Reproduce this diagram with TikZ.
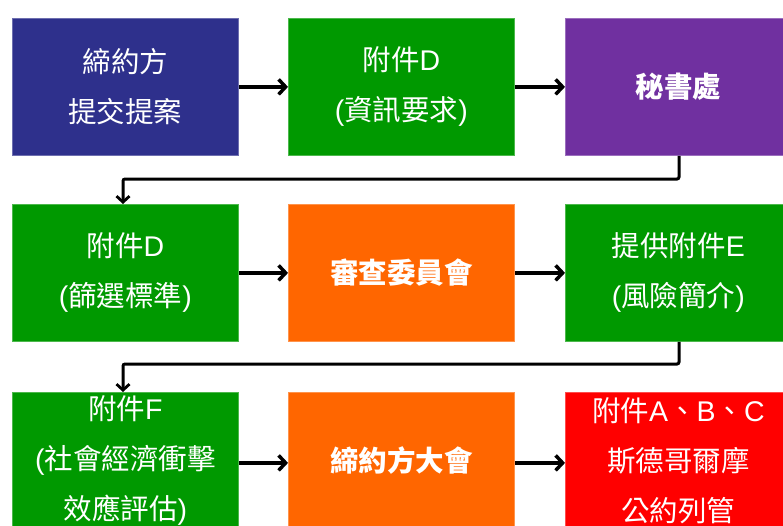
\documentclass[tikz,border=0pt]{standalone}
\usepackage{fontspec}
\setmainfont{Noto Sans CJK TC}
\newfontfamily\lat{Liberation Sans}
\usetikzlibrary{arrows.meta}
\definecolor{cblue}{RGB}{46,48,140}
\definecolor{cgreen}{RGB}{0,153,0}
\definecolor{cpurple}{RGB}{112,48,160}
\definecolor{corange}{RGB}{255,102,0}
\definecolor{cred}{RGB}{255,0,0}
\newcommand{\lt}[1]{{\lat #1}}
\tikzset{
  box/.style={anchor=north west, minimum width=226pt, minimum height=137pt,
    inner sep=0pt, text=white, align=center, draw=#1!70!white, line width=0.8pt,
    fill=#1, font=\fontsize{28.5}{50}\selectfont},
  arr/.style={line width=4pt, -{Straight Barb[length=7pt,width=15pt,line width=3.5pt]}},
  elbow/.style={line width=3pt, rounded corners=2pt, -{Straight Barb[length=6pt,width=13pt,line width=2.8pt]}}
}
\begin{document}
\begin{tikzpicture}[x=1pt,y=-1pt]
\useasboundingbox (0,0) rectangle (783,525);
\clip (0,0) rectangle (783,525);
\node[box=cblue] (a) at (12,18) {締約方\\提交提案};
\node[box=cgreen] (b) at (288,18) {附件\lt{D}\\\lt{(}資訊要求\lt{)}};
\node[box=cpurple] (c) at (565,18) {\bfseries 秘書處};
\node[box=cgreen] (d) at (12,204) {附件\lt{D}\\\lt{(}篩選標準\lt{)}};
\node[box=corange] (e) at (288,204) {\bfseries 審查委員會};
\node[box=cgreen] (f) at (565,204) {提供附件\lt{E}\\\lt{(}風險簡介\lt{)}};
\node[box=cgreen] (g) at (12,392) {附件\lt{F}\\\lt{(}社會經濟衝擊\\效應評估\lt{)}};
\node[box=corange] (h) at (288,392) {\bfseries 締約方大會};
\node[box=cred] (i) at (565,392) {附件\lt{A}、\lt{B}、\lt{C}\\斯德哥爾摩\\公約列管};
\draw[arr] (a.east) -- (b.west);
\draw[arr] (b.east) -- (c.west);
\draw[arr] (d.east) -- (e.west);
\draw[arr] (e.east) -- (f.west);
\draw[arr] ([yshift=-2pt]g.east) -- ([yshift=-2pt]h.west);
\draw[arr] ([yshift=-2pt]h.east) -- ([yshift=-2pt]i.west);
\coordinate (c1) at (679,179);
\coordinate (c2) at (123,179);
\coordinate (f1) at (679,364);
\coordinate (f2) at (123,364);
\draw[elbow] (c.south -| c1) -- (c1) -- (c2) -- (d.north -| c2);
\draw[elbow] (f.south -| f1) -- (f1) -- (f2) -- (g.north -| f2);
\end{tikzpicture}
\end{document}
